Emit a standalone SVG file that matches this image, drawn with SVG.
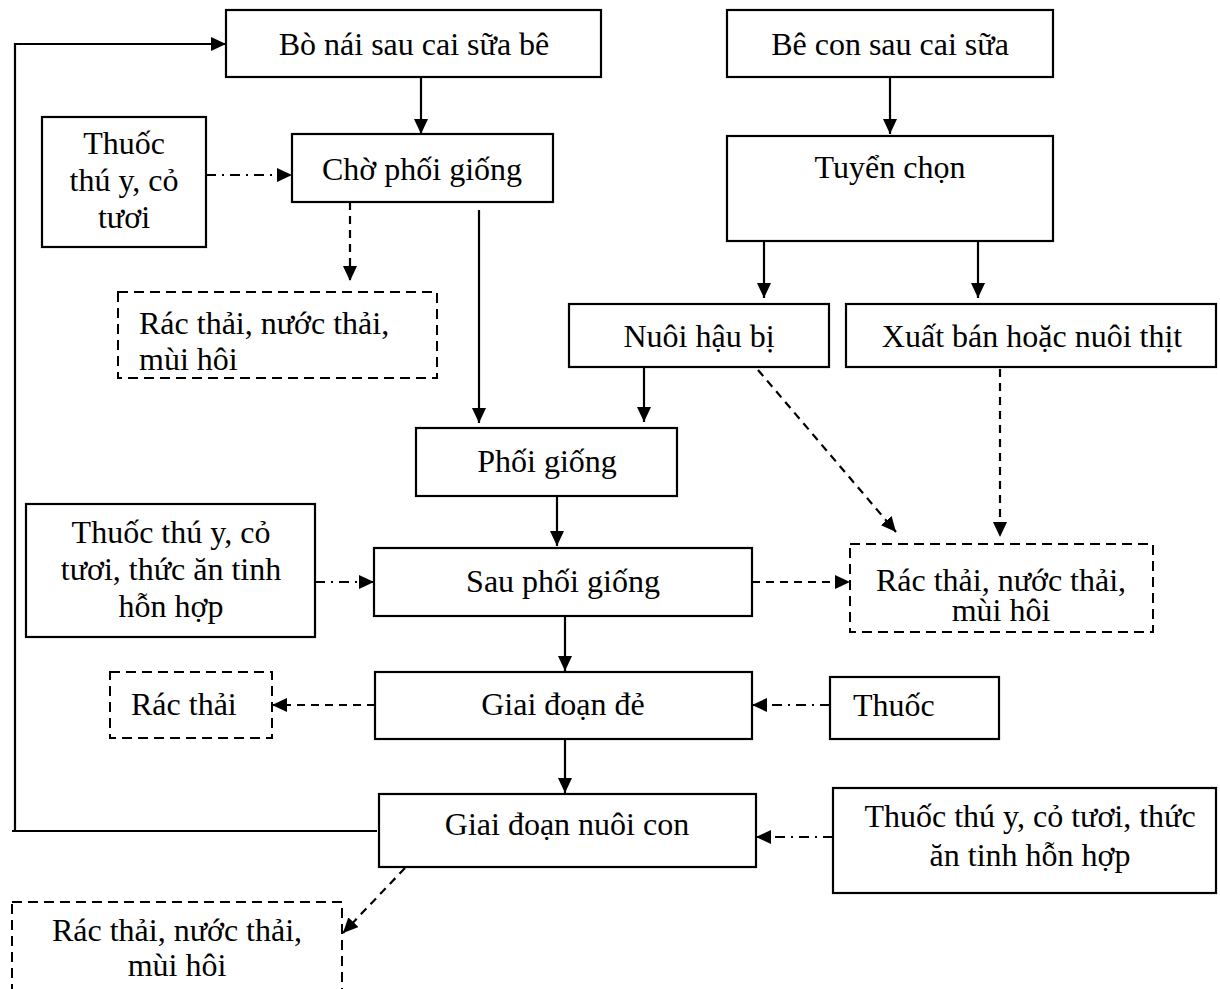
<svg xmlns="http://www.w3.org/2000/svg" width="1220" height="989" viewBox="0 0 1220 989">
  <style>
    text { font-family: "Liberation Serif", "Times New Roman", serif; font-size: 32px; fill: #000; }
    .c { text-anchor: middle; }
    .box { fill: #fff; stroke: #000; stroke-width: 2.2; }
    .dbox { fill: #fff; stroke: #000; stroke-width: 2; stroke-dasharray: 10 6; }
    .solid { fill: none; stroke: #000; stroke-width: 2.2; }
    .dash { fill: none; stroke: #000; stroke-width: 2.2; stroke-dasharray: 8 6; }
    .dashdot { fill: none; stroke: #000; stroke-width: 2.2; stroke-dasharray: 10 6 2 6; }
    .arr { marker-end: url(#ah); }
  </style>
  <defs>
    <marker id="ah" viewBox="0 0 15 14" refX="15" refY="7" markerWidth="15" markerHeight="14" markerUnits="userSpaceOnUse" orient="auto">
      <path d="M0,0 L15,7 L0,14 z" fill="#000"/>
    </marker>
  </defs>
  <rect width="1220" height="989" fill="#fff"/>

  <!-- Nodes -->
  <g id="bo-nai">
    <rect class="box" x="226" y="10" width="375" height="67"/>
    <text class="c" x="414" y="55">Bò nái sau cai sữa bê</text>
  </g>
  <g id="be-con">
    <rect class="box" x="727" y="10" width="326" height="67"/>
    <text class="c" x="890" y="55">Bê con sau cai sữa</text>
  </g>
  <g id="thuoc-1">
    <rect class="box" x="42" y="117" width="164" height="130"/>
    <text class="c" x="124" y="154">Thuốc</text>
    <text class="c" x="124" y="191">thú y, cỏ</text>
    <text class="c" x="124" y="228">tươi</text>
  </g>
  <g id="cho-phoi-giong">
    <rect class="box" x="292" y="134" width="261" height="68"/>
    <text class="c" x="422" y="180">Chờ phối giống</text>
  </g>
  <g id="tuyen-chon">
    <rect class="box" x="727" y="136" width="326" height="105"/>
    <text class="c" x="890" y="178">Tuyển chọn</text>
  </g>
  <g id="rac-thai-1">
    <rect class="dbox" x="118" y="292" width="319" height="86"/>
    <text x="139" y="334">Rác thải, nước thải,</text>
    <text x="139" y="370">mùi hôi</text>
  </g>
  <g id="nuoi-hau-bi">
    <rect class="box" x="569" y="304" width="260" height="63"/>
    <text class="c" x="699" y="347">Nuôi hậu bị</text>
  </g>
  <g id="xuat-ban">
    <rect class="box" x="846" y="304" width="370" height="63"/>
    <text class="c" x="1032" y="347">Xuất bán hoặc nuôi thịt</text>
  </g>
  <g id="phoi-giong">
    <rect class="box" x="416" y="428" width="261" height="68"/>
    <text class="c" x="547" y="472">Phối giống</text>
  </g>
  <g id="thuoc-2">
    <rect class="box" x="26" y="504" width="289" height="133"/>
    <text class="c" x="171" y="543">Thuốc thú y, cỏ</text>
    <text class="c" x="171" y="580">tươi, thức ăn tinh</text>
    <text class="c" x="171" y="617">hỗn hợp</text>
  </g>
  <g id="sau-phoi-giong">
    <rect class="box" x="374" y="548" width="378" height="68"/>
    <text class="c" x="563" y="592">Sau phối giống</text>
  </g>
  <g id="rac-thai-2">
    <rect class="dbox" x="850" y="544" width="303" height="88"/>
    <text class="c" x="1001" y="591">Rác thải, nước thải,</text>
    <text class="c" x="1001" y="621">mùi hôi</text>
  </g>
  <g id="rac-thai-3">
    <rect class="dbox" x="110" y="672" width="162" height="66"/>
    <text x="131" y="715">Rác thải</text>
  </g>
  <g id="giai-doan-de">
    <rect class="box" x="375" y="672" width="377" height="67"/>
    <text class="c" x="563" y="715">Giai đoạn đẻ</text>
  </g>
  <g id="thuoc-3">
    <rect class="box" x="830" y="677" width="169" height="62"/>
    <text x="853" y="716">Thuốc</text>
  </g>
  <g id="giai-doan-nuoi-con">
    <rect class="box" x="379" y="794" width="377" height="73"/>
    <text class="c" x="567" y="835">Giai đoạn nuôi con</text>
  </g>
  <g id="thuoc-4">
    <rect class="box" x="833" y="788" width="383" height="105"/>
    <text class="c" x="1030" y="827">Thuốc thú y, cỏ tươi, thức</text>
    <text class="c" x="1030" y="866">ăn tinh hỗn hợp</text>
  </g>
  <g id="rac-thai-4">
    <rect class="dbox" x="12" y="902" width="330" height="100"/>
    <text class="c" x="177" y="941">Rác thải, nước thải,</text>
    <text class="c" x="177" y="976">mùi hôi</text>
  </g>

  <!-- Connectors -->
  <g id="connectors">
    <!-- return loop back to the cow after weaning -->
    <path class="solid" d="M377,831 H12"/>
    <path class="solid arr" d="M15,831 V44 H226"/>
    <path class="solid arr" d="M421,77 V134"/>
    <path class="dashdot arr" d="M206,175 H292"/>
    <path class="dash arr" d="M350,202 V281"/>
    <path class="solid arr" d="M479,210 V423"/>
    <path class="solid arr" d="M890,77 V134"/>
    <path class="solid arr" d="M764,241 V298"/>
    <path class="solid arr" d="M978,241 V298"/>
    <path class="solid arr" d="M644,367 V422"/>
    <path class="dash arr" d="M758,370 L896,532"/>
    <path class="dash arr" d="M1000,369 V537"/>
    <path class="solid arr" d="M557,496 V546"/>
    <path class="dashdot arr" d="M315,582 H374"/>
    <path class="dash arr" d="M752,582 H850"/>
    <path class="solid arr" d="M565,616 V671"/>
    <path class="dash arr" d="M375,705 H272"/>
    <path class="dashdot arr" d="M830,705 H752"/>
    <path class="solid arr" d="M565,739 V793"/>
    <path class="dashdot arr" d="M833,837 H756"/>
    <path class="dash arr" d="M405,868 L343,933"/>
  </g>
</svg>
